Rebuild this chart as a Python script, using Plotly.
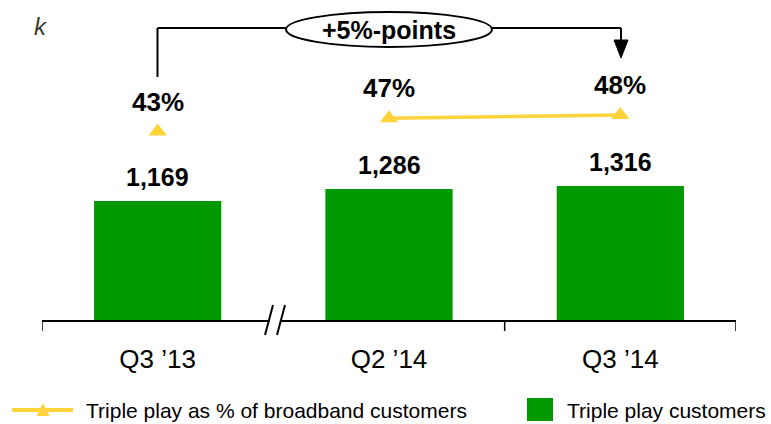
import plotly.graph_objects as go

categories = ["Q3 \u201913", "Q2 \u201914", "Q3 \u201914"]
customers_k = [1169, 1286, 1316]
customer_labels = ["1,169", "1,286", "1,316"]
triple_play_pct = [43, 47, 48]
pct_labels = ["43%", "47%", "48%"]
change_label = "+5%-points"
unit_label = "k"
legend_line_label = "Triple play as % of broadband customers"
legend_bar_label = "Triple play customers"

GREEN = "#009A00"
YELLOW = "#FFD43B"
FONT = "Liberation Sans, Arial, sans-serif"

W_FIG, H_FIG = 771, 424
L, R, T, B = 42, 35, 0, 104
PW = W_FIG - L - R
PH = H_FIG - T - B


def px(x):
    return (x - L) / PW


def py(y):
    return (T + PH - y) / PH


fig = go.Figure()

fig.add_trace(go.Bar(
    x=categories, y=customers_k, marker=dict(color=GREEN, line=dict(width=0)),
    width=0.55, name=legend_bar_label, showlegend=False, hoverinfo="x+y",
))
fig.add_trace(go.Scatter(
    x=categories[1:], y=triple_play_pct[1:], mode="lines",
    line=dict(color=YELLOW, width=3.5), yaxis="y2", showlegend=False, hoverinfo="skip",
))
fig.add_trace(go.Scatter(
    x=categories, y=triple_play_pct, mode="markers",
    marker=dict(symbol="triangle-up", size=16, color=YELLOW),
    yaxis="y2", name=legend_line_label, showlegend=False,
))

annotations = []
for c, v, t in zip(categories, customers_k, customer_labels):
    annotations.append(dict(x=c, y=v, xref="x", yref="y", text=f"<b>{t}</b>",
                            showarrow=False, xanchor="center", yanchor="middle", yshift=24,
                            font=dict(family=FONT, size=25, color="black")))
for c, v, t in zip(categories, triple_play_pct, pct_labels):
    annotations.append(dict(x=c, y=v, xref="x", yref="y2", text=f"<b>{t}</b>",
                            showarrow=False, xanchor="center", yanchor="middle", yshift=30,
                            font=dict(family=FONT, size=26, color="black")))

# bracket label
annotations.append(dict(x=px(389), y=py(30), xref="paper", yref="paper",
                        text=f"<b>{change_label}</b>", showarrow=False,
                        xanchor="center", yanchor="middle",
                        font=dict(family=FONT, size=25, color="black")))
annotations.append(dict(x=px(41), y=py(27), xref="paper", yref="paper",
                        text=f"<i>{unit_label}</i>", showarrow=False,
                        xanchor="center", yanchor="middle",
                        font=dict(family=FONT, size=24, color="#3a3a2e")))
# legend texts
annotations.append(dict(x=px(84), y=py(410), xref="paper", yref="paper",
                        text=legend_line_label, showarrow=False,
                        xanchor="left", yanchor="middle",
                        font=dict(family=FONT, size=21, color="black")))
annotations.append(dict(x=px(565), y=py(410), xref="paper", yref="paper",
                        text=legend_bar_label, showarrow=False,
                        xanchor="left", yanchor="middle",
                        font=dict(family=FONT, size=21, color="black")))

shapes = []
blk = dict(color="black", width=2)
# bracket
shapes.append(dict(type="line", xref="paper", yref="paper",
                   x0=px(157.5), x1=px(157.5), y0=py(77), y1=py(28), line=blk))
shapes.append(dict(type="line", xref="paper", yref="paper",
                   x0=px(157.5), x1=px(286), y0=py(28), y1=py(28), line=blk))
shapes.append(dict(type="line", xref="paper", yref="paper",
                   x0=px(492), x1=px(621), y0=py(28), y1=py(28), line=blk))
shapes.append(dict(type="line", xref="paper", yref="paper",
                   x0=px(621), x1=px(621), y0=py(28), y1=py(42), line=blk))
shapes.append(dict(type="path", xref="paper", yref="paper",
                   path=f"M {px(614)} {py(40)} L {px(628)} {py(40)} L {px(621)} {py(58)} Z",
                   fillcolor="black", line=dict(color="black", width=1)))
shapes.append(dict(type="circle", xref="paper", yref="paper",
                   x0=px(286), x1=px(492), y0=py(47), y1=py(12),
                   fillcolor="white", line=dict(color="black", width=2), layer="below"))
# axis ticks at boundaries
for xb in (-0.5, 1.5, 2.5):
    shapes.append(dict(type="line", xref="x", yref="paper", x0=xb, x1=xb,
                       y0=0, y1=py(331), line=dict(color="black", width=1.5)))
# axis break
shapes.append(dict(type="rect", xref="paper", yref="paper",
                   x0=px(270), x1=px(280), y0=py(323), y1=py(317),
                   fillcolor="white", line=dict(width=0), layer="above"))
shapes.append(dict(type="line", xref="paper", yref="paper",
                   x0=px(265), x1=px(273), y0=py(335), y1=py(305), line=blk))
shapes.append(dict(type="line", xref="paper", yref="paper",
                   x0=px(277), x1=px(285), y0=py(335), y1=py(305), line=blk))
# legend symbols
shapes.append(dict(type="line", xref="paper", yref="paper",
                   x0=px(12), x1=px(73), y0=py(410), y1=py(410),
                   line=dict(color=YELLOW, width=4)))
shapes.append(dict(type="path", xref="paper", yref="paper",
                   path=f"M {px(36.5)} {py(416)} L {px(49.5)} {py(416)} L {px(43)} {py(403)} Z",
                   fillcolor=YELLOW, line=dict(width=0)))
shapes.append(dict(type="rect", xref="paper", yref="paper",
                   x0=px(527), x1=px(553), y0=py(421), y1=py(398),
                   fillcolor=GREEN, line=dict(width=0)))

fig.update_layout(
    width=W_FIG, height=H_FIG,
    margin=dict(l=L, r=R, t=T, b=B),
    paper_bgcolor="white", plot_bgcolor="white",
    showlegend=False,
    bargap=0.45,
    xaxis=dict(type="category", range=[-0.5, 2.5], showline=True, linecolor="black",
               linewidth=1.5, ticks="", showgrid=False, ticklabelstandoff=15,
               tickfont=dict(family=FONT, size=26, color="black"), fixedrange=True),
    yaxis=dict(range=[0, 3143], visible=False, fixedrange=True),
    yaxis2=dict(range=[-14.12, 82.85], visible=False, overlaying="y", fixedrange=True),
    annotations=annotations,
    shapes=shapes,
    font=dict(family=FONT),
)

fig.write_html(
    "out.html",
    config={"displayModeBar": False},
    post_script="document.body.style.margin='0';document.body.style.padding='0';",
)
